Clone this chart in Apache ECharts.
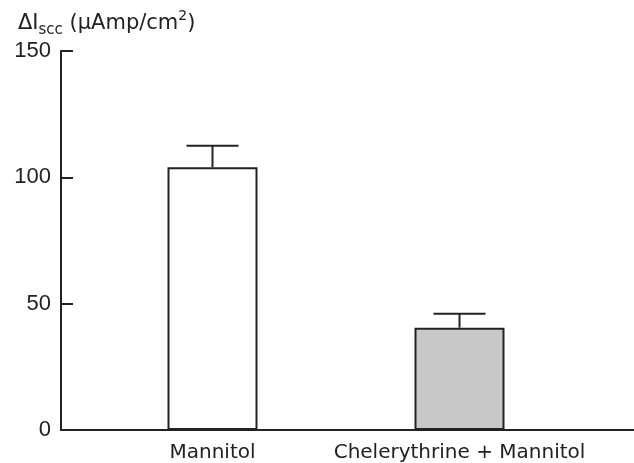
<!DOCTYPE html>
<html>
<head>
<meta charset="utf-8">
<script src="https://cdn.jsdelivr.net/npm/echarts@6/dist/echarts.min.js"></script>
<style>html,body{margin:0;padding:0;background:#fff;}#c{width:634px;height:463px;}</style>
</head>
<body>
<div id="c"></div>
<script>
const categories = ['Mannitol', 'Chelerythrine + Mannitol'];
const means = [104, 40.5];
const errors = [8.5, 5.5];
const yTicks = [0, 50, 100, 150];

const positions = categories.map((c, i) => i + 1);
const fills = ['#ffffff', '#c8c8c8'];

const chart = echarts.init(document.getElementById('c'), null, { renderer: 'canvas' });
const ink = '#222';

chart.setOption({
  animation: false,
  backgroundColor: '#fff',
  title: {
    text: '{n|ΔI}{s|scc}{n| (μAmp/cm}{p|2}{n|)}',
    left: 13,
    top: 2,
    textStyle: {
      fontWeight: 'normal',
      rich: {
        n: { fontFamily: 'DejaVu Sans', fontWeight: 'normal', fontSize: 21, color: ink, lineHeight: 27, verticalAlign: 'bottom' },
        s: { fontFamily: 'DejaVu Sans', fontWeight: 'normal', fontSize: 15, color: ink, lineHeight: 27, verticalAlign: 'bottom', padding: [0, 0, -4, 0] },
        p: { fontFamily: 'DejaVu Sans', fontWeight: 'normal', fontSize: 14, color: ink, lineHeight: 27, verticalAlign: 'top', padding: [2, 0, 0, 0] }
      }
    }
  },
  grid: { left: 61, right: 0, top: 51, bottom: 31 },
  xAxis: {
    type: 'value',
    min: 0.3866,
    max: 2.7065,
    splitLine: { show: false },
    axisTick: { show: false },
    axisLine: { show: true, lineStyle: { color: ink, width: 2 } },
    axisLabel: {
      customValues: positions,
      formatter: v => categories[Math.round(v) - 1] || '',
      fontFamily: 'DejaVu Sans',
      fontSize: 20,
      color: ink,
      margin: 13
    }
  },
  yAxis: {
    type: 'value',
    min: yTicks[0],
    max: yTicks[yTicks.length - 1],
    interval: 50,
    splitLine: { show: false },
    axisLine: { show: true, lineStyle: { color: ink, width: 2 } },
    axisTick: { show: true, inside: true, length: 12, lineStyle: { color: ink, width: 2 } },
    axisLabel: { fontFamily: 'Liberation Sans', fontSize: 22, color: ink, margin: 10 }
  },
  series: [
    {
      type: 'bar',
      barWidth: 90,
      data: means.map((m, i) => ({
        value: [positions[i], m],
        itemStyle: { color: fills[i], borderColor: ink, borderWidth: 2 }
      }))
    },
    {
      type: 'custom',
      data: means.map((m, i) => [positions[i], m, m + errors[i]]),
      renderItem: function (params, api) {
        const x = api.value(0);
        const lo = api.coord([x, api.value(1)]);
        const hi = api.coord([x, api.value(2)]);
        const half = 26;
        const st = { stroke: ink, lineWidth: 2 };
        return {
          type: 'group',
          children: [
            { type: 'line', shape: { x1: lo[0], y1: lo[1], x2: hi[0], y2: hi[1] }, style: st },
            { type: 'line', shape: { x1: hi[0] - half, y1: hi[1], x2: hi[0] + half, y2: hi[1] }, style: st }
          ]
        };
      },
      z: 3
    }
  ]
});
</script>
</body>
</html>
